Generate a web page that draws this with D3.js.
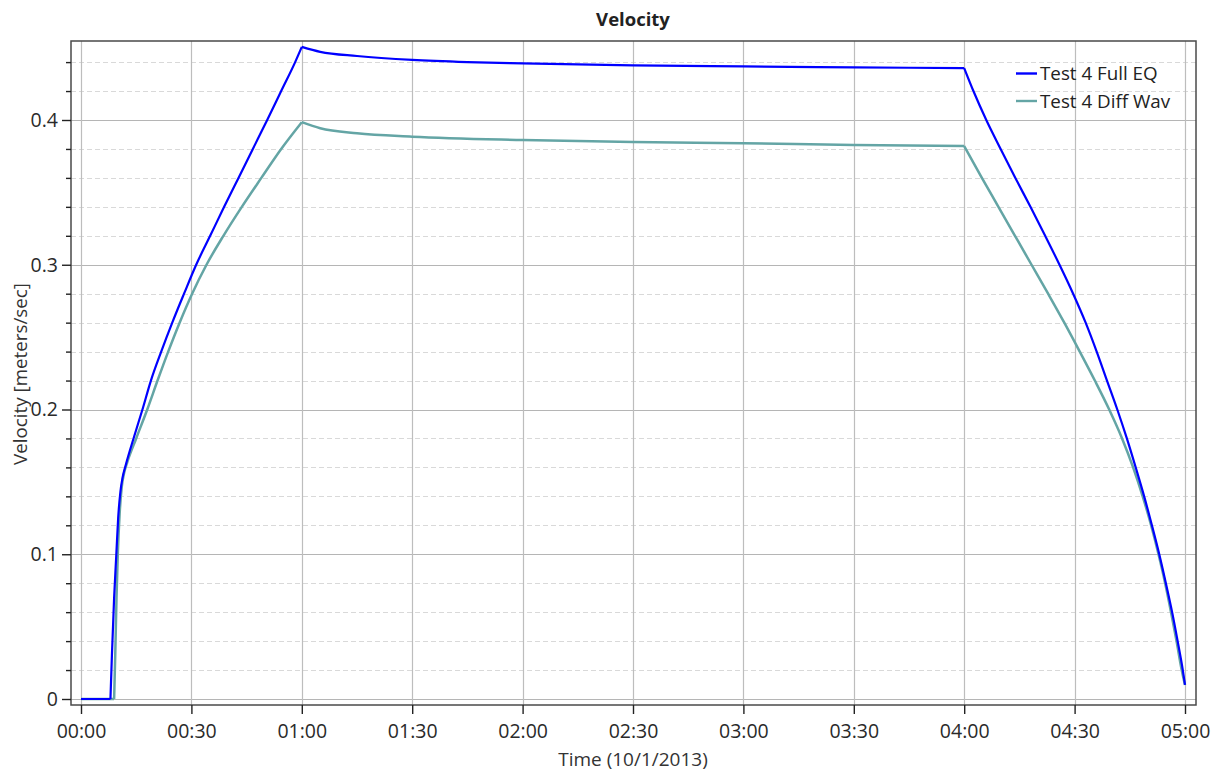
<!DOCTYPE html>
<html>
<head>
<meta charset="utf-8">
<script src="https://cdnjs.cloudflare.com/ajax/libs/d3/7.8.5/d3.min.js"></script>
<style>
  html, body { margin: 0; padding: 0; background: #fff; }
  svg { display: block; font-family: "Open Sans", "Noto Sans", sans-serif; }
</style>
</head>
<body>
<svg id="chart" width="1212" height="773"></svg>
<script>
// ---- data (time in minutes after 00:00 on 10/1/2013, velocity in m/s) ----
const seriesNames = ["Test 4 Full EQ", "Test 4 Diff Wav"];
const seriesColors = ["#0000ff", "#64a5a5"];

const fullEqTime = [0, 8,
  8.4, 9.0, 9.6, 10.1, 10.7, 11.3, 12.2, 14.4, 16.7, 19.0, 21.8, 24.8, 28.0, 31.3, 35.1, 38.9, 42.8, 46.7, 50.6, 54.4, 58.2, 60,
  65, 75, 90, 105, 120, 150, 180, 210, 240,
  242.5, 246.0, 249.9, 253.9, 258.0, 262.0, 265.9, 269.6, 273.0, 276.0, 278.8, 281.6, 284.2, 286.6, 288.9, 291.0, 293.0, 294.8, 296.5, 298.0, 299.4, 300];
const fullEqVel = [0, 0,
  0.03, 0.07, 0.10, 0.125, 0.143, 0.153, 0.162, 0.181, 0.20, 0.22, 0.24, 0.26, 0.28, 0.30, 0.32, 0.34, 0.36, 0.38, 0.40, 0.42, 0.44, 0.4505,
  0.4471, 0.4442, 0.4415, 0.4400, 0.4391, 0.4377, 0.4370, 0.4364, 0.4358,
  0.42, 0.40, 0.38, 0.36, 0.34, 0.32, 0.30, 0.28, 0.26, 0.24, 0.22, 0.20, 0.18, 0.16, 0.14, 0.12, 0.10, 0.08, 0.06, 0.04, 0.02, 0.0097];
const fullEqKinks = [8, 60, 240];

const diffWavTime = [0, 9,
  9.3, 9.65, 10.0, 10.5, 11.1, 11.7, 12.5, 15.0, 18.0, 20.8, 23.7, 26.8, 30.2, 34.1, 38.7, 43.7, 49.0, 54.4, 60,
  65, 75, 90, 120, 150, 180, 210, 240,
  244.8, 249.3, 253.8, 258.3, 262.8, 267.2, 271.4, 275.5, 279.4, 282.9, 285.9, 288.5, 290.8, 292.8, 294.6, 296.2, 297.7, 299.1, 300];
const diffWavVel = [0, 0,
  0.03, 0.07, 0.10, 0.128, 0.147, 0.156, 0.163, 0.18, 0.20, 0.22, 0.24, 0.26, 0.28, 0.30, 0.32, 0.34, 0.36, 0.38, 0.3985,
  0.3943, 0.3908, 0.3885, 0.3862, 0.3848, 0.3839, 0.3828, 0.3820,
  0.36, 0.34, 0.32, 0.30, 0.28, 0.26, 0.24, 0.22, 0.20, 0.18, 0.16, 0.14, 0.12, 0.10, 0.08, 0.06, 0.04, 0.02, 0.0097];
const diffWavKinks = [9, 60, 240];

const xTickValues = [0, 30, 60, 90, 120, 150, 180, 210, 240, 270, 300];
const xTickLabels = ["00:00", "00:30", "01:00", "01:30", "02:00", "02:30", "03:00", "03:30", "04:00", "04:30", "05:00"];
const yTickValues = [0, 0.1, 0.2, 0.3, 0.4];
const yTickLabels = ["0", "0.1", "0.2", "0.3", "0.4"];
const yMinorValues = [0.02, 0.04, 0.06, 0.08, 0.12, 0.14, 0.16, 0.18, 0.22, 0.24, 0.26, 0.28, 0.32, 0.34, 0.36, 0.38, 0.42, 0.44];

// ---- layout ----
const svg = d3.select("#chart");
const frame = { left: 71, top: 41, right: 1196, bottom: 705 };
const x = d3.scaleLinear().domain([0, 300]).range([81, 1185]);
const y = d3.scaleLinear().domain([0, 0.4]).range([699, 120]);
const fontStack = '"Open Sans", "Noto Sans", sans-serif';

// grid
const grid = svg.append("g");
grid.selectAll("line.ymin").data(yMinorValues).join("line")
  .attr("x1", frame.left).attr("x2", frame.right)
  .attr("y1", d => Math.round(y(d)) + 0.5).attr("y2", d => Math.round(y(d)) + 0.5)
  .attr("stroke", "#d9d9d9").attr("stroke-width", 1).attr("stroke-dasharray", "5,3");
grid.selectAll("line.ymaj").data(yTickValues).join("line")
  .attr("x1", frame.left).attr("x2", frame.right)
  .attr("y1", d => Math.round(y(d)) + 0.5).attr("y2", d => Math.round(y(d)) + 0.5)
  .attr("stroke", "#b5b5b5").attr("stroke-width", 1.2);
grid.selectAll("line.xmaj").data(xTickValues).join("line")
  .attr("y1", frame.top).attr("y2", frame.bottom)
  .attr("x1", d => Math.round(x(d)) + 0.5).attr("x2", d => Math.round(x(d)) + 0.5)
  .attr("stroke", "#bdbdbd").attr("stroke-width", 1.2);

// series: each series drawn as smooth pieces split at its kink times
const series = [
  { name: seriesNames[0], color: seriesColors[0], t: fullEqTime, v: fullEqVel, kinks: fullEqKinks, w: 2.2 },
  { name: seriesNames[1], color: seriesColors[1], t: diffWavTime, v: diffWavVel, kinks: diffWavKinks, w: 2.5 }
];
const line = d3.line().x(d => x(d[0])).y(d => y(d[1])).curve(d3.curveMonotoneX);
function pieces(s) {
  const pts = s.t.map((t, i) => [t, s.v[i]]);
  const out = [];
  let cur = [];
  pts.forEach(p => {
    cur.push(p);
    if (s.kinks.includes(p[0])) { out.push(cur); cur = [p]; }
  });
  if (cur.length > 1) out.push(cur);
  return out.map(seg => line(seg)).join("");
}
svg.append("g").selectAll("path").data(series.slice().reverse()).join("path")
  .attr("d", s => pieces(s))
  .attr("fill", "none").attr("stroke", s => s.color).attr("stroke-width", s => s.w)
  .attr("stroke-linejoin", "round");

// frame
svg.append("rect")
  .attr("x", frame.left).attr("y", frame.top)
  .attr("width", frame.right - frame.left).attr("height", frame.bottom - frame.top)
  .attr("fill", "none").attr("stroke", "#4a4a4a").attr("stroke-width", 1.5);

// axes
const yAxis = d3.axisLeft(y).tickValues(yTickValues).tickSize(9).tickPadding(4)
  .tickFormat((d, i) => yTickLabels[i]);
const gy = svg.append("g").attr("transform", `translate(${frame.left},0)`).call(yAxis);
const yMinorAxis = d3.axisLeft(y).tickValues(yMinorValues).tickSize(5).tickFormat("");
const gym = svg.append("g").attr("transform", `translate(${frame.left},0)`).call(yMinorAxis);

const xAxis = d3.axisBottom(x).tickValues(xTickValues).tickSize(9).tickPadding(10)
  .tickFormat((d, i) => xTickLabels[i]);
const gx = svg.append("g").attr("transform", `translate(0,${frame.bottom})`).call(xAxis);

[gy, gym, gx].forEach(g => {
  g.select(".domain").remove();
  g.selectAll(".tick line").attr("stroke", "#222").attr("stroke-width", 1.4);
  g.selectAll(".tick text").attr("fill", "#2a2a2a").style("font-size", "19.5px")
    .style("font-family", fontStack);
});

// title and axis labels
svg.append("text").attr("x", 633).attr("y", 26).attr("text-anchor", "middle")
  .style("font-size", "18.5px").style("font-weight", "bold").attr("fill", "#222").text("Velocity");
svg.append("text").attr("x", 633).attr("y", 766).attr("text-anchor", "middle")
  .style("font-size", "19px").attr("fill", "#333").text("Time (10/1/2013)");
svg.append("text").attr("transform", "translate(27,374) rotate(-90)").attr("text-anchor", "middle")
  .style("font-size", "18.8px").attr("fill", "#333").text("Velocity [meters/sec]");

// legend
const leg = svg.append("g");
series.forEach((s, i) => {
  const ly = 73.5 + i * 27.5;
  leg.append("line").attr("x1", 1016).attr("x2", 1037).attr("y1", ly).attr("y2", ly)
    .attr("stroke", s.color).attr("stroke-width", 2.4);
  leg.append("text").attr("x", 1040).attr("y", ly).attr("dy", "0.35em")
    .style("font-size", "18.8px").attr("fill", "#222").text(s.name);
});
</script>
</body>
</html>
